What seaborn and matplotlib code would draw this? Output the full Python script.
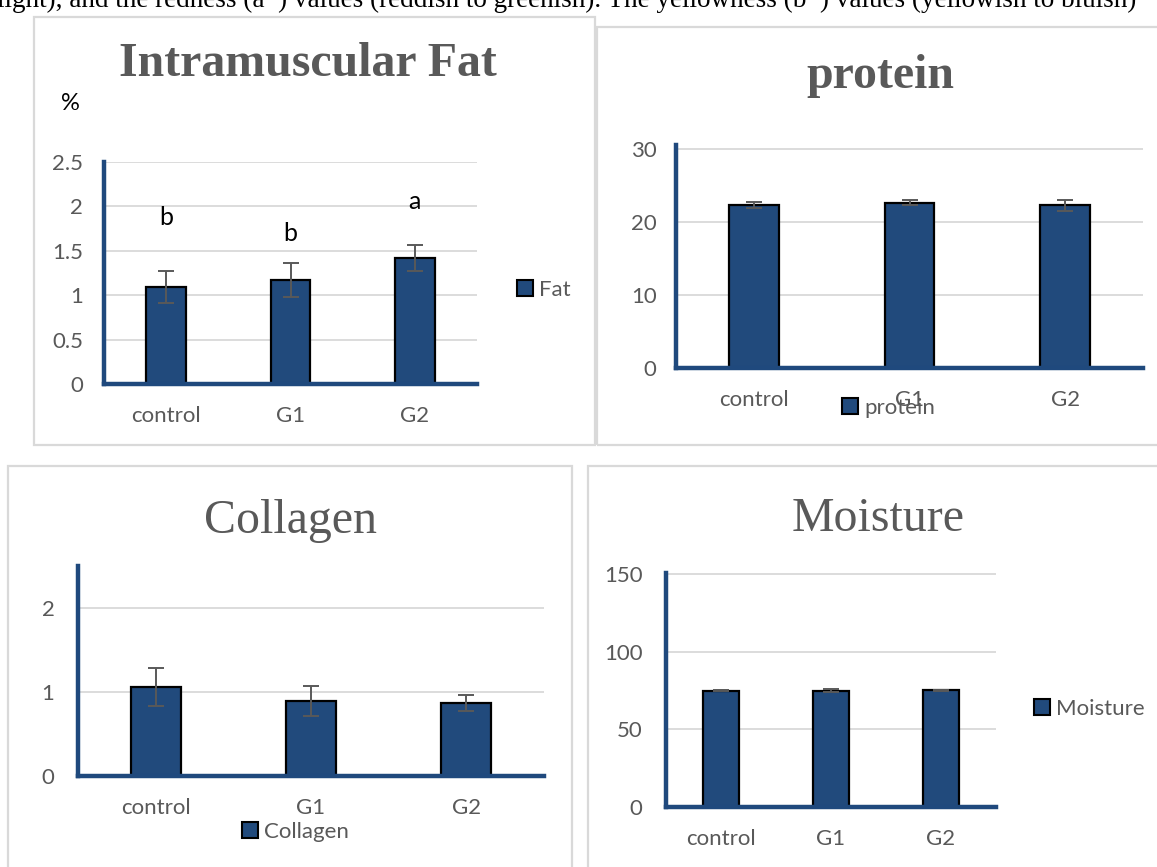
import numpy as np
import pandas as pd
import matplotlib
matplotlib.use("Agg")
import matplotlib.pyplot as plt
import seaborn as sns
from matplotlib.patches import Patch, Rectangle

# ---------------- data ----------------
categories = ["control", "G1", "G2"]

fat_values = [1.09, 1.17, 1.42]
fat_errors = [0.18, 0.19, 0.15]
fat_letters = ["b", "b", "a"]
fat_letter_y = [1.87, 1.69, 2.06]
fat_ticks = [0, 0.5, 1, 1.5, 2, 2.5]
fat_ticklabels = ["0", "0.5", "1", "1.5", "2", "2.5"]

protein_values = [22.4, 22.7, 22.3]
protein_errors = [0.4, 0.3, 0.7]
protein_ticks = [0, 10, 20, 30]
protein_ticklabels = ["0", "10", "20", "30"]

collagen_values = [1.06, 0.89, 0.87]
collagen_errors = [0.23, 0.18, 0.095]
collagen_ticks = [0, 1, 2]
collagen_ticklabels = ["0", "1", "2"]

moisture_values = [74.9, 74.9, 75.1]
moisture_errors = [0.4, 0.9, 0.4]
moisture_ticks = [0, 50, 100, 150]
moisture_ticklabels = ["0", "50", "100", "150"]

caption_text = ("light), and the redness (a*) values (reddish to greenish). "
                "The yellowness (b*) values (yellowish to bluish)")

# ---------------- style ----------------
sns.set_theme(style="white")
plt.rcParams["font.family"] = ["Lato", "DejaVu Sans"]

BAR = "#214A7C"
SPINE = "#1F497D"
GRID = "#D9D9D9"
TXT = "#595959"
SERIF = ["Liberation Serif", "DejaVu Serif"]
FS = 16

W, H = 1157, 867
fig = plt.figure(figsize=(W / 100, H / 100), dpi=100)
fig.patch.set_facecolor("white")


def rect(x0, y0, x1, y1):
    return [x0 / W, 1 - y1 / H, (x1 - x0) / W, (y1 - y0) / H]


def border(x0, y0, x1, y1):
    fig.patches.append(Rectangle((x0 / W, 1 - y1 / H), (x1 - x0) / W, (y1 - y0) / H,
                                 transform=fig.transFigure, fill=False,
                                 edgecolor=GRID, linewidth=1.6, zorder=0))


def draw(ax, values, errors, ylim, ticks, ticklabels, ypad):
    df = pd.DataFrame({"group": categories, "value": values})
    sns.barplot(data=df, x="group", y="value", color=BAR, saturation=1,
                edgecolor="black", linewidth=1.6, width=0.32, ax=ax, zorder=3)
    ax.errorbar(np.arange(len(values)), values, yerr=errors, fmt="none",
                ecolor=TXT, elinewidth=1.4, capsize=6, capthick=1.4, zorder=4)
    ax.set_xlim(-0.5, len(values) - 0.5)
    ax.set_ylim(*ylim)
    ax.set_yticks(ticks)
    ax.set_yticklabels(ticklabels)
    ax.yaxis.grid(True, color=GRID, linewidth=1.3)
    ax.xaxis.grid(False)
    ax.set_axisbelow(True)
    ax.set_facecolor("none")
    for s in ["top", "right"]:
        ax.spines[s].set_visible(False)
    for s in ["left", "bottom"]:
        ax.spines[s].set_color(SPINE)
        ax.spines[s].set_linewidth(3.2)
        ax.spines[s].set_zorder(5)
    ax.tick_params(axis="both", length=0, labelsize=FS, labelcolor=TXT)
    ax.tick_params(axis="y", pad=ypad)
    ax.tick_params(axis="x", pad=16)
    ax.set_xlabel("")
    ax.set_ylabel("")


def legend(label, x, y):
    h = [Patch(facecolor=BAR, edgecolor="black", linewidth=1.5, label=label)]
    fig.legend(handles=h, loc="center left", bbox_to_anchor=(x / W, 1 - y / H),
               frameon=False, handlelength=0.7, handleheight=0.7,
               handletextpad=0.3, borderpad=0, borderaxespad=0,
               fontsize=FS, labelcolor=TXT)


# caption line cut at top (as in the reference)
fig.text(-3 / W, 1 - 7 / H, caption_text, family=SERIF, size=19.5,
         color="black", va="baseline", ha="left")

# panel borders
border(34, 17, 595, 445)
border(597, 27, 1170, 445)
border(8, 466, 572, 880)
border(588, 466, 1170, 880)

# ---- Intramuscular Fat ----
ax1 = fig.add_axes(rect(104, 162, 477, 384))
draw(ax1, fat_values, fat_errors, (0, 2.5), fat_ticks, fat_ticklabels, 15)
for i, (lt, ly) in enumerate(zip(fat_letters, fat_letter_y)):
    ax1.text(i, ly, lt, ha="center", va="center", fontsize=18, color="black")
fig.text(308 / W, 1 - 76 / H, "Intramuscular Fat", family=SERIF, weight="bold",
         size=34.5, color=TXT, ha="center", va="baseline")
fig.text(70 / W, 1 - 104 / H, "%", fontsize=17, color="black", ha="center", va="center")
legend("Fat", 517, 290)

# ---- protein ----
ax2 = fig.add_axes(rect(676, 145, 1143, 368))
draw(ax2, protein_values, protein_errors, (0, 30.6), protein_ticks, protein_ticklabels, 14)
fig.text(880 / W, 1 - 88 / H, "protein", family=SERIF, weight="bold",
         size=34.5, color=TXT, ha="center", va="baseline")
legend("protein", 842, 408)

# ---- Collagen ----
ax3 = fig.add_axes(rect(78, 566, 544, 776))
draw(ax3, collagen_values, collagen_errors, (0, 2.5), collagen_ticks, collagen_ticklabels, 17)
fig.text(290 / W, 1 - 533 / H, "Collagen", family=SERIF,
         size=34.5, color=TXT, ha="center", va="baseline")
legend("Collagen", 242, 832)

# ---- Moisture ----
ax4 = fig.add_axes(rect(666, 573, 996, 807))
draw(ax4, moisture_values, moisture_errors, (0, 150.5), moisture_ticks, moisture_ticklabels, 17)
fig.text(878 / W, 1 - 531 / H, "Moisture", family=SERIF,
         size=34.5, color=TXT, ha="center", va="baseline")
legend("Moisture", 1034, 709)

fig.savefig("out.png", dpi=100, facecolor="white")
